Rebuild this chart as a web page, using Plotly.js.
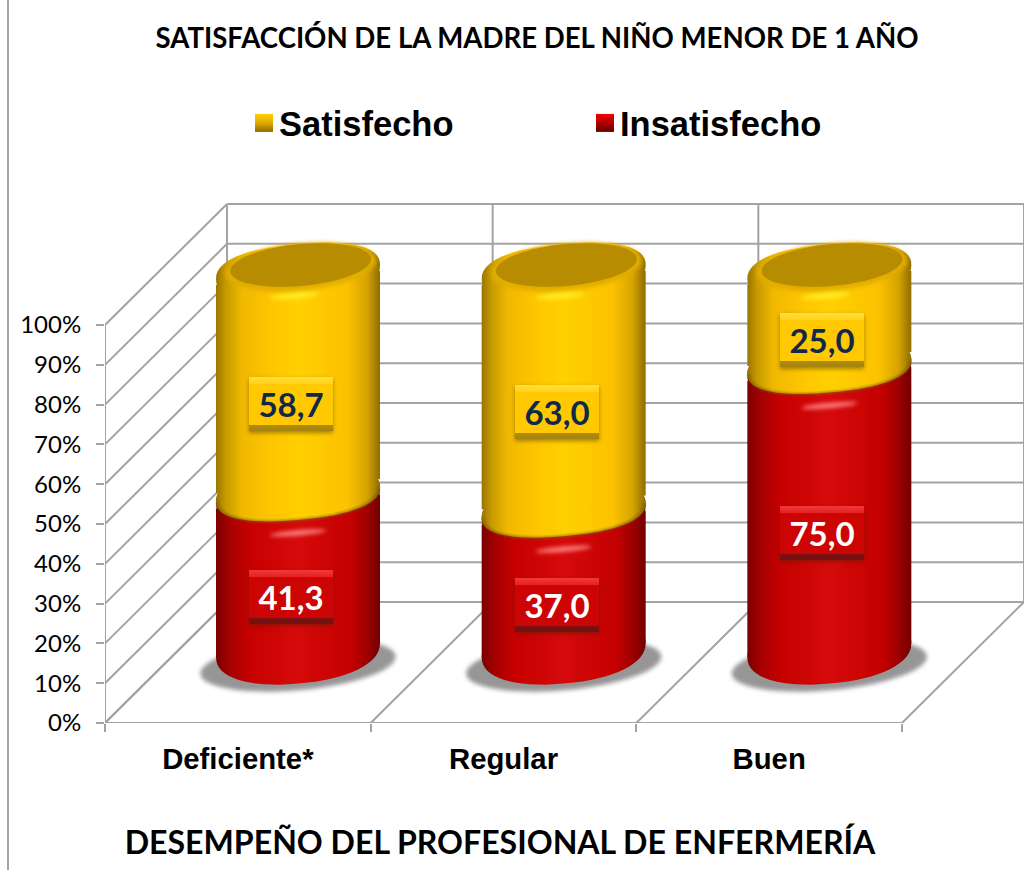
<!DOCTYPE html>
<html>
<head>
<meta charset="utf-8">
<script src="https://cdn.plot.ly/plotly-3.0.1.min.js"></script>
<style>html,body{margin:0;padding:0;background:#fff}</style>
</head>
<body>
<div id="chart" style="width:1028px;height:870px"></div>
<script>
var categories = ["Deficiente*", "Regular", "Buen"];
var insatisfecho = [41.3, 37.0, 75.0];
var satisfecho = [58.7, 63.0, 25.0];
var tickValues = [0, 10, 20, 30, 40, 50, 60, 70, 80, 90, 100];
var tickLabels = ["0%", "10%", "20%", "30%", "40%", "50%", "60%", "70%", "80%", "90%", "100%"];

var GOLD = "rgb(255, 200, 1)", RED = "rgb(201, 0, 1)", DARK = "rgb(184, 140, 0)", BAND = "rgb(224, 172, 0)";
var HLG = "rgb(255, 240, 40)", HLR = "rgb(255, 130, 130)", SHD = "rgb(150, 150, 150)";

var W = 1028, H = 870, mL = 0, mR = 4, mT = 202, mB = 147;
var plotW = W - mL - mR, plotH = H - mT - mB;
var xUnit = 265.67, yUnit = 3.98, dxPx = 122, dyPx = 121;
var dx = dxPx / xUnit, dy = dyPx / yUnit;
var x2Domain = [0, 1000 / plotW];
var barX0px = 298, barYUnit = 3.78, barY0px = 650;
var rx = 82 / xUnit, ry = 28 / barYUnit, shear = 7 / barYUnit;

function line(x0, y0, x1, y1) {
  return {type: "line", layer: "below", xref: "x", yref: "y", x0: x0, y0: y0, x1: x1, y1: y1,
          line: {color: "#a3a3a3", width: 2}};
}
function ellipse(cx, v, fx, fy, dv, p) {
  var s = "", e = p || 1;
  for (var i = 0; i <= 64; i++) {
    var t = i / 64 * 2 * Math.PI, c = Math.cos(t), n = Math.sin(t);
    var cc = (c < 0 ? -1 : 1) * Math.pow(Math.abs(c), e), nn = (n < 0 ? -1 : 1) * Math.pow(Math.abs(n), e);
    s += (i ? "L" : "M") + (cx + rx * fx * cc).toFixed(4) + "," + (v + (dv || 0) + ry * fy * nn + shear * fx * cc).toFixed(4);
  }
  return s + "Z";
}
function lowerArc(cx, v, fy, p) {
  var s = "", e = p || 1;
  for (var i = 0; i <= 32; i++) {
    var t = Math.PI + i / 32 * Math.PI, c = Math.cos(t), n = Math.sin(t);
    var cc = (c < 0 ? -1 : 1) * Math.pow(Math.abs(c), e), nn = -Math.pow(Math.abs(n), e);
    s += (i ? "L" : "M") + (cx + rx * 0.98 * cc).toFixed(4) + "," + (v + ry * fy * nn + shear * cc).toFixed(4);
  }
  return s;
}
function side(cx, v0, v1) {
  return "M" + (cx - rx) + "," + (v0 - shear) + "L" + (cx - rx) + "," + (v1 - shear) +
         "L" + (cx + rx) + "," + (v1 + shear) + "L" + (cx + rx) + "," + (v0 + shear) + "Z";
}
function s2(path, fill, layer) {
  return {type: "path", layer: layer || "above", xref: "x2", yref: "y2", path: path, fillcolor: fill,
          line: {width: 0}};
}

var shapes = [];
tickValues.forEach(function (v) {
  shapes.push(line(-0.5 + dx, v + dy, 2.5 + dx, v + dy));
  shapes.push(line(-0.5, v, -0.5 + dx, v + dy));
});
[0, 1, 2, 3].forEach(function (k) {
  shapes.push(line(k - 0.5 + dx, dy, k - 0.5 + dx, 100 + dy));
  shapes.push(line(k - 0.5, 0, k - 0.5 + dx, dy));
});
shapes.push(line(-0.5, 0, 2.5, 0));
shapes.push(line(-0.5, 0, -0.5, 100));
shapes.push({type: "line", layer: "below", xref: "paper", yref: "paper", x0: 8 / plotW, x1: 8 / plotW,
             y0: -mB / plotH, y1: (plotH + mT) / plotH, line: {color: "#a3a3a3", width: 2}});

categories.forEach(function (c, i) {
  var a = insatisfecho[i], b = a + satisfecho[i];
  shapes.push(s2(ellipse(i, 0, 1.19, 0.9, -4), SHD, "below"));
  shapes.push(s2(side(i, 0, a - 2), RED));
  shapes.push(s2(ellipse(i, 0, 1, 1.2, 0, 0.9), RED));
  shapes.push(s2(ellipse(i, a - 0.5, 1, 1, 0, 0.8), RED));
  shapes.push(s2(ellipse(i, a, 0.34, 0.09, -39 / barYUnit), HLR));
  shapes.push(s2(side(i, a + 2, b - 1.5), GOLD));
  shapes.push(s2(ellipse(i, a, 1, 0.93, 0, 0.85), GOLD));
  var edge = s2(lowerArc(i, a, 0.93, 0.85), "rgba(0,0,0,0)");
  edge.line = {color: "rgba(125,95,0,0.8)", width: 2};
  shapes.push(edge);
  shapes.push(s2(ellipse(i, b, 1, 1, 0, 0.85), GOLD));
  shapes.push(s2(ellipse(i + 0.01, b, 0.92, 0.84, 5 / barYUnit), BAND));
  shapes.push(s2(ellipse(i + 0.01, b, 0.86, 0.75, 7 / barYUnit), DARK));
  shapes.push(s2(ellipse(i - 0.015, b, 0.3, 0.09, -24 / barYUnit), HLG));
});

function fmt(v) { return v.toFixed(1).replace(".", ","); }
var annotations = [];
categories.forEach(function (c, i) {
  var a = insatisfecho[i], s = satisfecho[i];
  annotations.push({xref: "x2", yref: "y2", x: i, y: a / 2, xshift: -7, yshift: -25, text: "<b>" + fmt(a) + "</b>",
    showarrow: false, width: 82, height: 52, bgcolor: "#c80000", borderwidth: 0,
    font: {family: "Lato, sans-serif", size: 33, color: "#ffffff"}});
  annotations.push({xref: "x2", yref: "y2", x: i, y: a + s / 2, xshift: -7, yshift: -21, text: "<b>" + fmt(s) + "</b>",
    showarrow: false, width: 82, height: 52, bgcolor: "#ffc801", borderwidth: 0,
    font: {family: "Lato, sans-serif", size: 33, color: "#10284a"}});
});

var xIdx = categories.map(function (c, i) { return i; });
var data = [
  {type: "scatter", mode: "none", x: categories, y: [0, 0, 0], xaxis: "x", yaxis: "y", showlegend: false, hoverinfo: "skip"},
  {type: "bar", name: "Insatisfecho", x: xIdx, y: insatisfecho, xaxis: "x2", yaxis: "y2", width: 130 / xUnit,
   marker: {color: RED, line: {width: 0}}},
  {type: "bar", name: "Satisfecho", x: xIdx, y: satisfecho, xaxis: "x2", yaxis: "y2", width: 130 / xUnit,
   marker: {color: GOLD, line: {width: 0}}}
];

var layout = {
  width: W, height: H,
  margin: {l: mL, r: mR, t: mT, b: mB, pad: 0},
  paper_bgcolor: "#ffffff", plot_bgcolor: "rgba(0,0,0,0)",
  barmode: "stack", bargap: 0,
  showlegend: true,
  title: {text: "<b>SATISFACCIÓN DE LA MADRE DEL NIÑO MENOR DE 1 AÑO</b>", x: 537 / W, xanchor: "center",
          y: 1 - 38 / H, yanchor: "middle", font: {family: "Lato, sans-serif", size: 27.6, color: "#000"}},
  legend: {orientation: "h", traceorder: "reversed", x: 239 / plotW, xanchor: "left", y: (plotH + mT - 123) / plotH,
           yanchor: "middle", entrywidth: 296, entrywidthmode: "pixels", itemclick: false,
           font: {family: "Liberation Sans, Arial, sans-serif", size: 34.5, color: "#000", weight: "bold"},
           bgcolor: "rgba(0,0,0,0)"},
  xaxis: {domain: [105 / plotW, 1], type: "category", categoryorder: "array", categoryarray: categories,
          range: [-0.5, 2.5 + dx], tickson: "boundaries", ticks: "outside", ticklen: 8, tickwidth: 2, tickcolor: "#a3a3a3",
          ticklabelstandoff: 16,
          showgrid: false, zeroline: false, showline: false, fixedrange: true,
          tickfont: {family: "Liberation Sans, Arial, sans-serif", size: 29.3, color: "#000", weight: "bold"}},
  yaxis: {domain: [0, 1], range: [0, plotH / yUnit], tickmode: "array", tickvals: tickValues, ticktext: tickLabels,
          ticks: "outside", ticklen: 8, tickwidth: 2, tickcolor: "#a3a3a3", ticklabelstandoff: 10,
          showgrid: false, zeroline: false, showline: false, fixedrange: true,
          tickfont: {family: "Lato, sans-serif", size: 24, color: "#000"}},
  xaxis2: {domain: x2Domain, anchor: "y2", range: [-barX0px / xUnit, (1000 - barX0px) / xUnit], showticklabels: false,
           ticks: "", showgrid: false, zeroline: false, showline: false, fixedrange: true,
           title: {text: "<b>DESEMPEÑO DEL PROFESIONAL DE ENFERMERÍA</b>", standoff: 108,
                   font: {family: "Lato, sans-serif", size: 32.1, color: "#000"}}},
  yaxis2: {domain: [0, 1], anchor: "x2", range: [-(723 - barY0px) / barYUnit, (barY0px - 202) / barYUnit],
           showticklabels: false, ticks: "", showgrid: false, zeroline: false, showline: false, fixedrange: true},
  shapes: shapes,
  annotations: annotations
};

function gradient(defs, id, vertical, stops) {
  var ns = "http://www.w3.org/2000/svg";
  var g = document.createElementNS(ns, "linearGradient");
  g.setAttribute("id", id);
  g.setAttribute("x1", "0"); g.setAttribute("y1", "0");
  g.setAttribute("x2", vertical ? "0" : "1"); g.setAttribute("y2", vertical ? "1" : "0");
  stops.forEach(function (s) {
    var st = document.createElementNS(ns, "stop");
    st.setAttribute("offset", s[0]); st.setAttribute("stop-color", s[1]);
    g.appendChild(st);
  });
  defs.appendChild(g);
}

Plotly.newPlot("chart", data, layout, {displayModeBar: false}).then(function (gd) {
  var svg = gd.querySelector(".main-svg");
  var defs = svg.querySelector("defs");
  gradient(defs, "gGold", false, [[0, "#9a7500"], [0.06, "#c79a00"], [0.16, "#f0b900"], [0.35, "#ffc600"], [0.5, "#ffd000"], [0.8, "#fcc200"], [0.92, "#d6a400"], [1, "#8f6d00"]]);
  gradient(defs, "gRed", false, [[0, "#7a0000"], [0.08, "#a40000"], [0.2, "#c60000"], [0.5, "#d60a0a"], [0.82, "#c40000"], [0.93, "#9a0000"], [1, "#700000"]]);
  gradient(defs, "bGold", true, [[0, "#ffe03a"], [0.13, "#ffd21a"], [0.14, "#ffc801"], [0.88, "#ffc801"], [0.89, "#b08c10"], [1, "#a5830c"]]);
  gradient(defs, "bRed", true, [[0, "#f03a3a"], [0.13, "#e52020"], [0.14, "#cc0404"], [0.88, "#cc0404"], [0.89, "#7d1010"], [1, "#701010"]]);
  gradient(defs, "lGold", true, [[0, "#ffd000"], [0.5, "#e0aa00"], [1, "#8c6a00"]]);
  gradient(defs, "lRed", true, [[0, "#f00000"], [0.5, "#b00000"], [1, "#650000"]]);
  gd.querySelectorAll(".shapelayer path").forEach(function (p) {
    var f = p.style.fill.replace(/\s/g, "");
    if (f === "rgb(255,200,1)") p.style.fill = "url(#gGold)";
    else if (f === "rgb(201,0,1)") p.style.fill = "url(#gRed)";
    else if (f === "rgb(255,240,40)" || f === "rgb(255,130,130)") p.style.filter = "blur(2px)";
    else if (f === "rgb(150,150,150)") p.style.filter = "blur(2px)";
    else if (f === "rgb(224,172,0)") p.style.filter = "blur(2px)";
    else if (p.style.stroke.indexOf("125") >= 0) p.style.filter = "blur(1px)";
  });
  gd.querySelectorAll(".legendpoints path").forEach(function (p) {
    var f = p.style.fill.replace(/\s/g, "");
    p.style.fill = f === "rgb(255,200,1)" ? "url(#lGold)" : "url(#lRed)";
    p.setAttribute("d", "M9,9H-9V-9H9Z");
    p.setAttribute("transform", (p.getAttribute("transform") || "") + " translate(5,0)");
  });
  gd.querySelectorAll(".annotation rect.bg").forEach(function (r) {
    var f = r.style.fill.replace(/\s/g, "");
    r.style.fill = f === "rgb(255,200,1)" ? "url(#bGold)" : "url(#bRed)";
    r.style.filter = "drop-shadow(0 2px 2px rgba(60,40,0,.45))";
  });
});
</script>
</body>
</html>
